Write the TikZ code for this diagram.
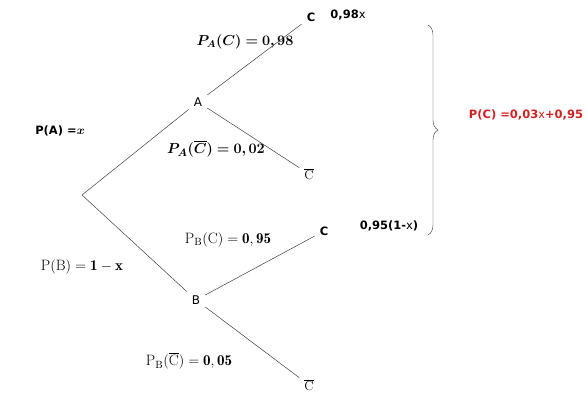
\documentclass[tikz,border=0pt]{standalone}
\usepackage{amsmath,amssymb,bm}
\usepackage{fontspec}
\newfontfamily\labelfont{DejaVu Sans}
\usetikzlibrary{decorations.pathreplacing}

\begin{document}
\begin{tikzpicture}[x=1pt, y=-1pt,
    event/.style={inner sep=5pt, font=\labelfont\fontsize{12}{14}\selectfont},
    leaf/.style={inner sep=5pt, font=\labelfont\bfseries\fontsize{11.5}{13}\selectfont},
    prob/.style={font=\fontsize{15}{17}\selectfont},
    small/.style={font=\labelfont\bfseries\fontsize{11.5}{13}\selectfont},
    branch/.style={draw=black!75, line width=0.5pt}]
    % Define colours
    \definecolor{resultColour}{HTML}{D42020}

    % Fix the frame
    \useasboundingbox (0,0) rectangle (587,405);

    % Place the tree
    \coordinate (root) at (82,195);
    \node[event] (A) at (198,102) {A};
    \node[event] (B) at (196,300) {B};
    \node[leaf] (C1) at (311,17) {C};
    \node[event, font=\fontsize{13}{15}\selectfont] (Cb1) at (309,174) {$\overline{\mathrm{C}}$};
    \node[leaf] (C2) at (324,231) {C};
    \node[event, font=\fontsize{13}{15}\selectfont] (Cb2) at (309,385) {$\overline{\mathrm{C}}$};

    % Draw branches
    \draw[branch] (root) -- (A);
    \draw[branch] (root) -- (B);
    \draw[branch] (A) -- (C1);
    \draw[branch] (A) -- (Cb1);
    \draw[branch] (B) -- (C2);
    \draw[branch] (B) -- (Cb2);

    % Branch probabilities
    \node[small] (pA) at (60,131) {P(A) =$\bm{x}$};
    \node[prob] (pB) at (82,267) {$\mathrm{P(B)}=\mathbf{1-x}$};
    \node[prob, font=\fontsize{14}{16}\selectfont] (pAC) at (245,42) {$\bm{P_A(C)=0,98}$};
    \node[prob] (pACb) at (216,149) {$\bm{P_A(\overline{C})=0,02}$};
    \node[prob] (pBC) at (228,240) {$\mathrm{P_B(C)}=\mathbf{0,95}$};
    \node[prob] (pBCb) at (189,361) {$\mathrm{P_B(\overline{C})}=\mathbf{0,05}$};

    % Products on the C leaves
    \node[small] (mA) at (348,15) {0,98\textmd{x}};
    \node[small] (mB) at (389,226) {0,95(1-\textmd{x})};

    % Brace and total
    \draw[black!80, decorate, decoration={brace, amplitude=10pt}] (428,25) -- (428,235);
    \node[small, text=resultColour] (pC) at (526,115) {P(C) =0,03\textmd{x}+0,95};

\end{tikzpicture}
\end{document}
